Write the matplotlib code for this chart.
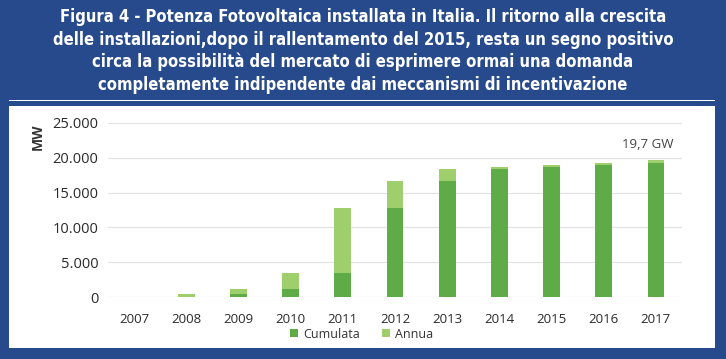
import matplotlib
matplotlib.use("Agg")
import matplotlib.pyplot as plt
from matplotlib.patches import Rectangle
import numpy as np

years = ["2007", "2008", "2009", "2010", "2011", "2012", "2013", "2014", "2015", "2016", "2017"]
cumulata = [0, 87, 430, 1140, 3470, 12770, 16700, 18300, 18700, 19000, 19300]
annua = [87, 343, 710, 2330, 9300, 3930, 1600, 400, 300, 300, 400]
yticks = [0, 5000, 10000, 15000, 20000, 25000]
ytick_labels = ["0", "5.000", "10.000", "15.000", "20.000", "25.000"]
title = ("Figura 4 - Potenza Fotovoltaica installata in Italia. Il ritorno alla crescita\n"
         "delle installazioni,dopo il rallentamento del 2015, resta un segno positivo\n"
         "circa la possibilità del mercato di esprimere ormai una domanda\n"
         "completamente indipendente dai meccanismi di incentivazione")
annotation = "19,7 GW"

BLUE = "#264a8b"
DARK = "#5fab47"
LIGHT = "#9fcf6d"

W, H = 726, 359
fig = plt.figure(figsize=(W / 100, H / 100), dpi=100)
fig.patch.set_facecolor(BLUE)

fig.add_artist(Rectangle((9 / W, 1 - 348 / H), (715 - 9) / W, (348 - 106) / H,
                         transform=fig.transFigure, facecolor="white", edgecolor="none", zorder=0))
fig.add_artist(Rectangle((9 / W, 1 - 101 / H), (715 - 9) / W, 1.2 / H,
                         transform=fig.transFigure, facecolor="white", edgecolor="none", zorder=0))

fig.text(0.5, 1 - 51 / H, title, ha="center", va="center", color="white",
         fontsize=11.9, fontweight="bold", family="DejaVu Sans", fontstretch="condensed",
         linespacing=1.3)

ax = fig.add_axes([108 / W, 1 - 297.3 / H, (682 - 108) / W, (297.3 - 122.7) / H])
ax.set_facecolor("none")
x = np.arange(len(years))
ax.bar(x, cumulata, width=0.32, color=DARK, label="Cumulata", zorder=3)
ax.bar(x, annua, width=0.32, bottom=cumulata, color=LIGHT, label="Annua", zorder=3)
ax.set_xlim(-0.5, len(years) - 0.5)
ax.set_ylim(0, 25000)
ax.set_yticks(yticks)
ax.set_yticklabels(ytick_labels)
ax.set_xticks(x)
ax.set_xticklabels(years)
for s in ax.spines.values():
    s.set_visible(False)
ax.grid(axis="y", color="#e3e3e3", lw=0.9, zorder=0)
ax.set_axisbelow(True)
ax.tick_params(axis="both", length=0, colors="#2a2a2a")
ax.tick_params(axis="y", pad=7, labelsize=10.5)
ax.tick_params(axis="x", pad=11, labelsize=9.5)
for lab in ax.get_xticklabels() + ax.get_yticklabels():
    lab.set_family("Open Sans")

total_last = cumulata[-1] + annua[-1]
ax.annotate(annotation, xy=(x[-1], total_last), xytext=(-6, 6.5), textcoords="offset points",
            ha="center", va="bottom", fontsize=9.5, color="#444444", family="Open Sans")

fig.text(38 / W, 1 - 137 / H, "MW", rotation=90, ha="center", va="center",
         fontsize=10, color="#333333", fontweight="bold", family="Open Sans")

fig.legend(loc="center", bbox_to_anchor=(0.498, 1 - 334 / H), ncol=2, frameon=False,
           prop={"family": "Open Sans", "size": 9}, handlelength=0.6, handleheight=0.6,
           handletextpad=0.4, columnspacing=1.8, labelcolor="#333333")

fig.savefig("out.png", dpi=100, facecolor=fig.get_facecolor())
